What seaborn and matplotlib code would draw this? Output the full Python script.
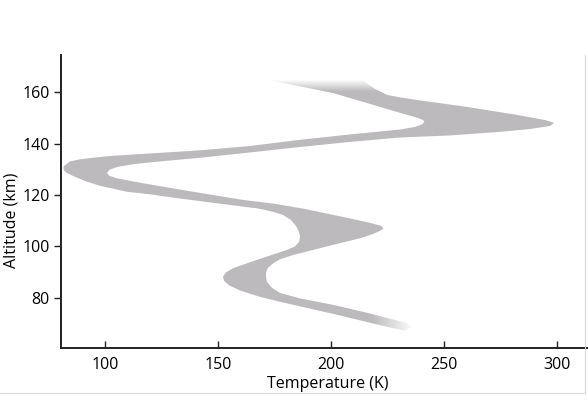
import numpy as np
import seaborn as sns
import matplotlib.pyplot as plt
from matplotlib.colors import to_rgb
from matplotlib.lines import Line2D

# left edge of the temperature band (bottom -> top)
left_temp = [232.7, 223.0, 200.8, 178.7, 168.5, 159.6, 154.8, 152.6, 152.1, 153.4,
             156.5, 161.9, 168.5, 175.1, 180.5, 184.0, 185.8, 186.2, 185.8, 184.4,
             182.2, 178.7, 173.8, 167.6, 161.0, 131.8, 119.8, 109.6, 97.7, 91.9,
             86.6, 83.0, 81.7, 81.5, 81.7, 84.4, 88.8, 95.4, 102.1, 119.8,
             141.9, 164.1, 186.2, 208.4, 230.5, 237.1, 240.2, 241.3, 240.7, 238.5,
             230.5, 215.9, 200.8, 186.2, 172.0]
left_alt = [67.2, 69.1, 73.8, 78.2, 80.4, 82.9, 84.9, 86.6, 88.2, 89.9,
            91.5, 93.2, 95.2, 97.1, 98.7, 100.0, 101.8, 103.7, 105.7, 108.0,
            110.3, 112.3, 113.6, 114.8, 115.5, 118.8, 120.3, 121.3, 123.6, 125.2,
            127.1, 128.6, 129.6, 130.6, 131.3, 133.1, 133.9, 134.6, 135.2, 136.2,
            137.4, 139.1, 141.5, 143.6, 145.5, 146.5, 147.5, 148.5, 149.2, 150.0,
            152.0, 155.8, 159.7, 162.3, 164.8]

# right edge of the band (top -> bottom)
right_temp = [214.1, 216.3, 219.4, 224.7, 230.5, 238.0, 260.1, 282.3, 294.7, 298.7,
              296.9, 288.0, 274.8, 252.6, 230.5, 208.4, 186.2, 164.1, 141.9, 124.2,
              113.2, 105.6, 102.1, 100.8, 101.6, 105.2, 116.7, 138.8, 161.0, 175.1,
              188.4, 205.2, 217.2, 222.1, 223.2, 221.6, 218.1, 212.8, 198.0, 183.2,
              177.3, 174.4, 172.0, 171.2, 171.2, 171.5, 173.8, 177.4, 186.2, 200.8,
              215.9, 233.6, 235.8]
right_alt = [164.8, 163.2, 161.3, 159.0, 158.0, 157.0, 154.3, 151.2, 149.2, 148.1,
             146.9, 145.7, 144.6, 143.2, 142.4, 140.7, 138.7, 136.6, 134.5, 133.1,
             132.1, 131.0, 130.0, 128.7, 127.6, 126.5, 124.6, 121.3, 118.1, 116.6,
             114.6, 111.5, 109.2, 108.0, 107.0, 106.1, 104.7, 103.2, 100.0, 96.7,
             95.0, 93.5, 91.7, 90.1, 88.2, 86.3, 83.9, 81.9, 79.8, 77.3,
             74.2, 70.2, 68.7]

x_ticks = [100, 150, 200, 250, 300]
y_ticks = [80, 100, 120, 140, 160]

band_color = '#bcbabc'
xmin, xmax = 80.4, 313.7
ymin, ymax = 60.5, 174.5

sns.set_theme(style="ticks")
plt.rcParams['font.family'] = ['Open Sans', 'DejaVu Sans']

fig = plt.figure(figsize=(5.88, 4.04), dpi=100)
ax = fig.add_axes([61 / 588, 56 / 404, 527 / 588, 293 / 404])

# polygon of the band (invisible, used as clip path for the shaded image)
band = ax.fill(left_temp + right_temp, left_alt + right_alt,
               facecolor='none', edgecolor='none')[0]

# soft fade at both ends of the band
tt = np.linspace(xmin, xmax, 500)
aa = np.linspace(ymin, ymax, 500)
T, A = np.meshgrid(tt, aa)
alpha = np.clip((165.0 - A) / 4.5, 0, 1)
low = A < 76
alpha[low] *= np.clip((237.0 - T[low]) / 19.0, 0, 1)
rgba = np.zeros(T.shape + (4,))
rgba[..., :3] = to_rgb(band_color)
rgba[..., 3] = alpha
im = ax.imshow(rgba, extent=[xmin, xmax, ymin, ymax], origin='lower',
               aspect='auto', interpolation='bilinear', zorder=2)
im.set_clip_path(band)

ax.set_xlim(xmin, xmax)
ax.set_ylim(ymin, ymax)
ax.set_xticks(x_ticks)
ax.set_yticks(y_ticks)
ax.tick_params(axis='x', direction='in', length=5, width=1, pad=6.5,
               labelsize=11.5, colors='#222222', labelcolor='black')
ax.tick_params(axis='y', direction='out', length=5, width=1, pad=3,
               labelsize=11.5, colors='#222222', labelcolor='black')

ax.set_xlabel("Temperature (K)", fontsize=11.5, color='black')
ax.set_ylabel("Altitude (km)", fontsize=11.5, color='black')
ax.xaxis.set_label_coords(0.507, -0.095)
ax.yaxis.set_label_coords(-0.078, 0.437)

sns.despine(ax=ax)
for side in ['left', 'bottom']:
    ax.spines[side].set_linewidth(1.4)
    ax.spines[side].set_color('#222222')
ax.grid(False)

# light frame of the original figure
fig.add_artist(Line2D([0.9957, 0.9957], [0.027, 0.864], color='#d6d6d6',
                      lw=0.8, transform=fig.transFigure))
fig.add_artist(Line2D([0.0, 0.9957], [0.027, 0.027], color='#d6d6d6',
                      lw=0.8, transform=fig.transFigure))

fig.savefig("out.png", dpi=100)
